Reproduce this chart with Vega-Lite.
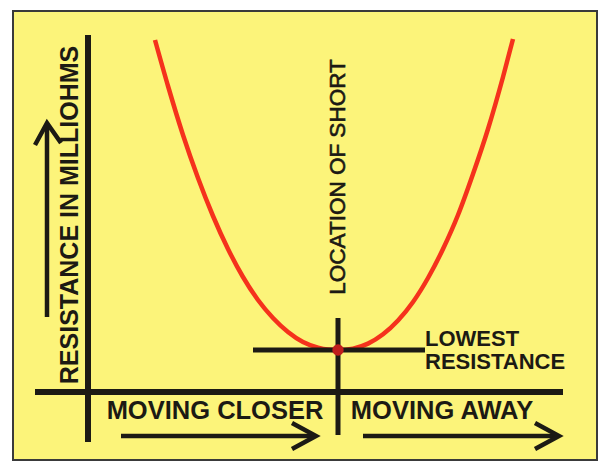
{
  "$schema": "https://vega.github.io/schema/vega-lite/v6.json",
  "width": 600,
  "height": 461,
  "padding": 0,
  "autosize": {"type": "fit", "contains": "padding"},
  "background": "#ffffff",
  "config": {"view": {"stroke": null}},
  "datasets": {
    "frame": [{"x": -325, "x2": 259, "y": 381, "y2": -68}],
    "axes": [
      {"x": -250, "x2": -250, "y": 357, "y2": -50},
      {"x": -303, "x2": 225, "y": 0, "y2": 0}
    ],
    "cross": [
      {"x": 0, "x2": 0, "y": 74, "y2": -43},
      {"x": -85, "x2": 87, "y": 42, "y2": 42}
    ],
    "curve": [
      {"x": -183, "y": 352}, {"x": -170, "y": 306}, {"x": -155, "y": 257},
      {"x": -140, "y": 214}, {"x": -125, "y": 176}, {"x": -110, "y": 143},
      {"x": -95, "y": 115}, {"x": -80, "y": 92}, {"x": -65, "y": 74},
      {"x": -50, "y": 60}, {"x": -35, "y": 50}, {"x": -20, "y": 44.4},
      {"x": -10, "y": 42.5}, {"x": 0, "y": 42},
      {"x": 15, "y": 43.4}, {"x": 30, "y": 48.4}, {"x": 45, "y": 57.7},
      {"x": 60, "y": 71.5}, {"x": 75, "y": 90}, {"x": 90, "y": 114},
      {"x": 105, "y": 143}, {"x": 120, "y": 177}, {"x": 135, "y": 218},
      {"x": 150, "y": 263}, {"x": 165, "y": 315}, {"x": 175, "y": 353}
    ],
    "arrows": [
      {"id": "up", "o": 1, "x": -291, "y": 75},
      {"id": "up", "o": 2, "x": -291, "y": 268},
      {"id": "uph", "o": 1, "x": -303, "y": 247},
      {"id": "uph", "o": 2, "x": -291, "y": 269},
      {"id": "uph", "o": 3, "x": -277, "y": 249},
      {"id": "r1", "o": 1, "x": -217, "y": -44},
      {"id": "r1", "o": 2, "x": -24, "y": -44},
      {"id": "r1h", "o": 1, "x": -46, "y": -31},
      {"id": "r1h", "o": 2, "x": -22, "y": -44},
      {"id": "r1h", "o": 3, "x": -46, "y": -57},
      {"id": "r2", "o": 1, "x": 25, "y": -44},
      {"id": "r2", "o": 2, "x": 219, "y": -44},
      {"id": "r2h", "o": 1, "x": 197, "y": -31},
      {"id": "r2h", "o": 2, "x": 221, "y": -44},
      {"id": "r2h", "o": 3, "x": 197, "y": -57}
    ],
    "dot": [{"x": 0, "y": 42}],
    "rotated": [
      {"x": 0, "y": 215, "t": "LOCATION OF SHORT"}
    ],
    "rotatedBold": [
      {"x": -268, "y": 177, "t": "RESISTANCE IN MILLIOHMS"}
    ],
    "bottomText": [
      {"x": -123, "y": -19, "t": "MOVING CLOSER"},
      {"x": 104, "y": -19, "t": "MOVING AWAY"}
    ],
    "sideText": [
      {"x": 87, "y": 53, "t": "LOWEST"},
      {"x": 87, "y": 30, "t": "RESISTANCE"}
    ]
  },
  "layer": [
    {
      "data": {"name": "frame"},
      "mark": {"type": "rect", "fill": "#FCF47A", "stroke": "#3a3a3a", "strokeWidth": 2},
      "encoding": {
        "x": {"field": "x", "type": "quantitative", "scale": {"domain": [-338, 262], "nice": false, "zero": false}, "axis": null},
        "x2": {"field": "x2"},
        "y": {"field": "y", "type": "quantitative", "scale": {"domain": [-69, 392], "nice": false, "zero": false}, "axis": null},
        "y2": {"field": "y2"}
      }
    },
    {
      "data": {"name": "curve"},
      "mark": {"type": "line", "color": "#F5321C", "strokeWidth": 4.5, "interpolate": "monotone"},
      "encoding": {
        "x": {"field": "x", "type": "quantitative"},
        "y": {"field": "y", "type": "quantitative"},
        "order": {"field": "x", "type": "quantitative"}
      }
    },
    {
      "data": {"name": "axes"},
      "mark": {"type": "rule", "color": "#1c1a14", "strokeWidth": 6},
      "encoding": {
        "x": {"field": "x", "type": "quantitative"},
        "x2": {"field": "x2"},
        "y": {"field": "y", "type": "quantitative"},
        "y2": {"field": "y2"}
      }
    },
    {
      "data": {"name": "cross"},
      "mark": {"type": "rule", "color": "#1c1a14", "strokeWidth": 5},
      "encoding": {
        "x": {"field": "x", "type": "quantitative"},
        "x2": {"field": "x2"},
        "y": {"field": "y", "type": "quantitative"},
        "y2": {"field": "y2"}
      }
    },
    {
      "data": {"name": "dot"},
      "mark": {"type": "point", "filled": true, "color": "#C01E1C", "size": 130, "opacity": 1},
      "encoding": {
        "x": {"field": "x", "type": "quantitative"},
        "y": {"field": "y", "type": "quantitative"}
      }
    },
    {
      "data": {"name": "arrows"},
      "mark": {"type": "line", "color": "#1c1a14", "strokeWidth": 4.5, "strokeCap": "butt", "strokeJoin": "miter"},
      "encoding": {
        "x": {"field": "x", "type": "quantitative"},
        "y": {"field": "y", "type": "quantitative"},
        "detail": {"field": "id"},
        "order": {"field": "o", "type": "quantitative"}
      }
    },
    {
      "data": {"name": "rotated"},
      "mark": {"type": "text", "angle": 270, "align": "center", "baseline": "middle", "font": "Liberation Sans", "fontSize": 22.5, "fontWeight": "normal", "color": "#1c1a14", "stroke": "#1c1a14", "strokeWidth": 0.6},
      "encoding": {
        "x": {"field": "x", "type": "quantitative"},
        "y": {"field": "y", "type": "quantitative"},
        "text": {"field": "t"}
      }
    },
    {
      "data": {"name": "rotatedBold"},
      "mark": {"type": "text", "angle": 270, "align": "center", "baseline": "middle", "font": "Liberation Sans", "fontSize": 25, "fontWeight": "bold", "color": "#1c1a14"},
      "encoding": {
        "x": {"field": "x", "type": "quantitative"},
        "y": {"field": "y", "type": "quantitative"},
        "text": {"field": "t"}
      }
    },
    {
      "data": {"name": "bottomText"},
      "mark": {"type": "text", "align": "center", "baseline": "middle", "font": "Liberation Sans", "fontSize": 25.5, "fontWeight": "bold", "color": "#1c1a14"},
      "encoding": {
        "x": {"field": "x", "type": "quantitative"},
        "y": {"field": "y", "type": "quantitative"},
        "text": {"field": "t"}
      }
    },
    {
      "data": {"name": "sideText"},
      "mark": {"type": "text", "align": "left", "baseline": "middle", "font": "Liberation Sans", "fontSize": 22, "fontWeight": "bold", "color": "#1c1a14"},
      "encoding": {
        "x": {"field": "x", "type": "quantitative"},
        "y": {"field": "y", "type": "quantitative"},
        "text": {"field": "t"}
      }
    }
  ]
}
